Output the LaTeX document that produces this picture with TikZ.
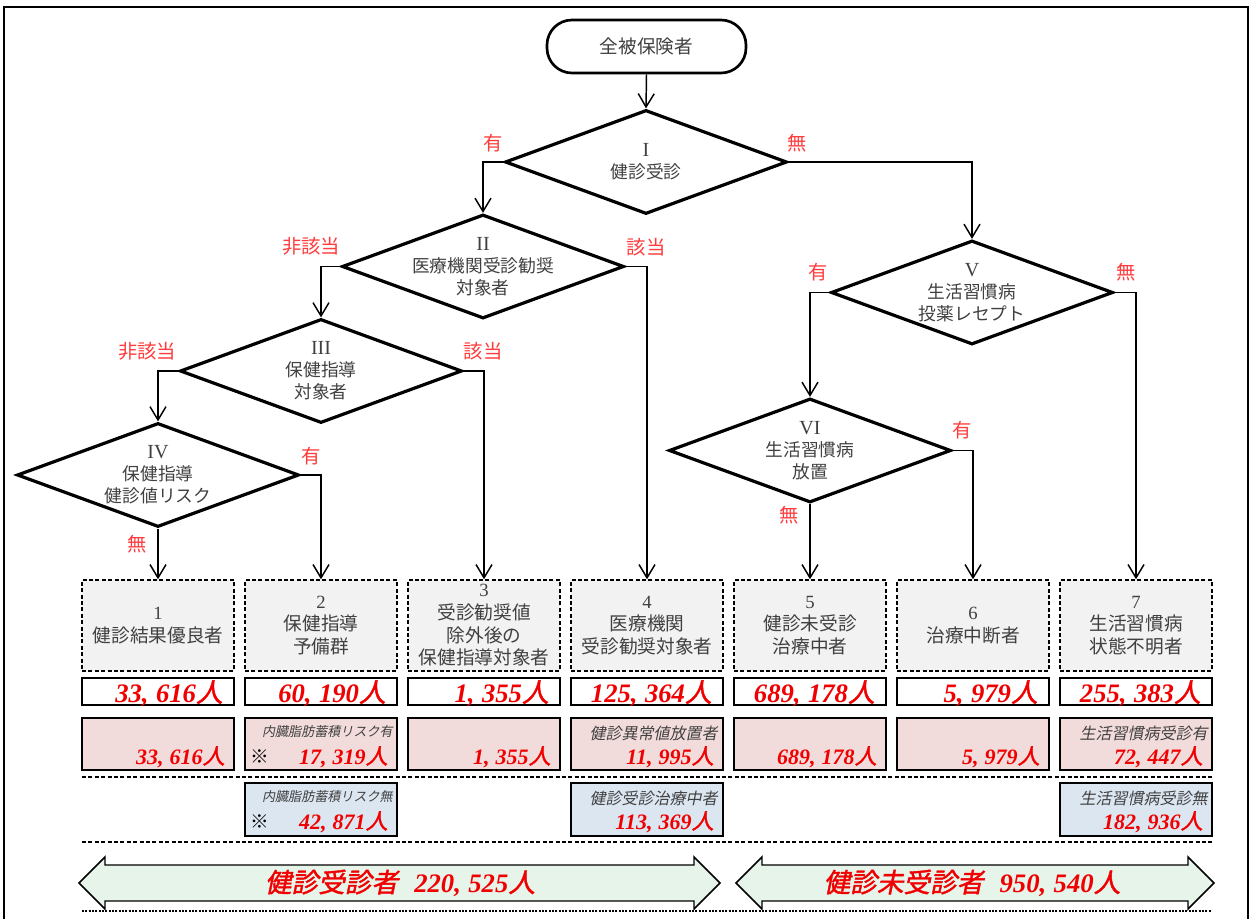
\documentclass[tikz,border=0pt]{standalone}
\usepackage{fontspec}
\setmainfont{Liberation Serif}
\newfontfamily\jp{Noto Sans CJK JP}
\newfontfamily\jpsl[FakeSlant=0.2]{Noto Sans CJK JP}
\newfontfamily\jpbi[FakeSlant=0.2,FakeBold=1.5]{Noto Sans CJK JP}
\newfontfamily\ser{Liberation Serif}
\usetikzlibrary{arrows.meta,shapes.geometric}
\definecolor{txtgray}{HTML}{404040}
\definecolor{lblred}{HTML}{FF3B3B}
\definecolor{numred}{HTML}{F00000}
\definecolor{boxgray}{HTML}{F2F2F2}
\definecolor{cpink}{HTML}{F2DCDB}
\definecolor{cblue}{HTML}{DCE6F1}
\definecolor{cgreen}{HTML}{E6F4EA}
\def\u{0.75pt}
\newcommand\cm{,\hspace{0.28em}}
\newcommand\pnum[1]{{\ser\bfseries\itshape #1}{\jpbi 人}}
\newcommand\rn[1]{{\ser\fontsize{15}{16.5}\selectfont #1}}
\tikzset{
  startn/.style={draw, line width=2pt, rounded corners=25*\u, minimum width=199*\u, minimum height=53*\u, font=\jp\fontsize{14}{17}\selectfont, text=txtgray},
  dia/.style={draw, diamond, line width=2.4pt, inner sep=0pt, minimum width=282*\u, minimum height=104*\u},
  dtext/.style={align=center, text=txtgray, font=\jp\fontsize{13.3}{16.5}\selectfont},
  conn/.style={line width=1.1pt},
  arr/.style={conn, -{Straight Barb[length=10pt,width=12pt,line width=1.1pt]}},
  lbl/.style={text=lblred, font=\jp\fontsize{14.5}{17}\selectfont, inner sep=0pt},
  catbox/.style={draw, dash pattern=on 3pt off 1.8pt, line width=1.1pt, fill=boxgray, minimum width=152*\u, minimum height=91*\u, inner sep=0pt, align=center, text=txtgray, font=\jp\fontsize{14}{17}\selectfont},
  totbox/.style={draw, line width=2pt, fill=white, minimum width=152*\u, minimum height=27*\u, inner sep=0pt},
  pinkbox/.style={draw, line width=2pt, fill=cpink, minimum width=152*\u, minimum height=52*\u, inner sep=0pt},
  bluebox/.style={draw, line width=2pt, fill=cblue, minimum width=152*\u, minimum height=53*\u, inner sep=0pt},
  bignum/.style={anchor=base east, inner sep=0pt, text=numred, font=\fontsize{20}{24}\selectfont},
  smallnum/.style={anchor=base east, inner sep=0pt, text=numred, font=\fontsize{16.5}{20}\selectfont},
  sublbl/.style={anchor=east, inner sep=0pt, text=txtgray, font=\jpsl\fontsize{12}{14}\selectfont},
  tinylbl/.style={anchor=east, inner sep=0pt, text=txtgray, font=\jpsl\fontsize{9.8}{12}\selectfont},
  kome/.style={inner sep=0pt, font=\jp\fontsize{14}{16}\selectfont},
  sep/.style={dash pattern=on 3pt off 1.8pt, line width=1.1pt},
  dotsep/.style={dash pattern=on 1.5pt off 1pt, line width=2pt},
  bigarrow/.style={draw, line width=1.1pt, fill=cgreen},
  arrtxt/.style={text=numred, font=\fontsize{20}{24}\selectfont, inner sep=0pt}
}
\begin{document}
\begin{tikzpicture}[x=0.75pt,y=-0.75pt]
\useasboundingbox (0,0) rectangle (1253,919);
% frame
\draw[line width=1.1pt] (4,925) -- (4,7) -- (1248,7) -- (1248,925);

% start
\node[startn] (s) at (646.5,46.5) {全被保険者};

% diamonds
\node[dia] (d1) at (646,162) {};
\node[dtext] (d1t) at (d1) {\rn{I}\\健診受診};
\node[dia] (d2) at (483,266.5) {};
\node[dtext] (d2t) at (d2) {\rn{II}\\医療機関受診勧奨\\対象者};
\node[dia] (d3) at (321,371) {};
\node[dtext] (d3t) at (d3) {\rn{III}\\保健指導\\対象者};
\node[dia] (d4) at (158,475) {};
\node[dtext] (d4t) at (d4) {\rn{IV}\\保健指導\\健診値リスク};
\node[dia] (d5) at (972,292.5) {};
\node[dtext] (d5t) at (d5) {\rn{V}\\生活習慣病\\投薬レセプト};
\node[dia] (d6) at (810,450.5) {};
\node[dtext] (d6t) at (d6) {\rn{VI}\\生活習慣病\\放置};

% category boxes
\node[catbox] (t1) at (158,625.5) {{\ser 1}\\健診結果優良者};
\node[catbox] (t2) at (321,625.5) {{\ser 2}\\保健指導\\予備群};
\node[catbox] (t3) at (484,625.5) {{\ser 3}\\受診勧奨値\\除外後の\\保健指導対象者};
\node[catbox] (t4) at (647,625.5) {{\ser 4}\\医療機関\\受診勧奨対象者};
\node[catbox] (t5) at (810,625.5) {{\ser 5}\\健診未受診\\治療中者};
\node[catbox] (t6) at (973,625.5) {{\ser 6}\\治療中断者};
\node[catbox] (t7) at (1136,625.5) {{\ser 7}\\生活習慣病\\状態不明者};

% connectors
\draw[arr] (s.south) -- (d1.north);
\draw[arr] (d1.west) -| (d2.north);
\draw[arr] (d1.east) -| (d5.north);
\draw[arr] (d2.west) -| (d3.north);
\draw[arr] (d2.east) -| (t4.north);
\draw[arr] (d3.west) -| (d4.north);
\draw[arr] (d3.east) -| (t3.north);
\draw[arr] (d4.east) -| (t2.north);
\draw[arr] (d4.south) -- (t1.north);
\draw[arr] (d5.west) -| (d6.north);
\draw[arr] (d5.east) -| (t7.north);
\draw[arr] (d6.east) -| (t6.north);
\draw[arr] (d6.south) -- (t5.north);

% branch labels
\node[lbl] (l1) at (493,143) {有};
\node[lbl] (l2) at (797,143) {無};
\node[lbl] (l3) at (311,246) {非該当};
\node[lbl] (l4) at (646,247) {該当};
\node[lbl] (l5) at (147,351) {非該当};
\node[lbl] (l6) at (483,351) {該当};
\node[lbl] (l7) at (311,456) {有};
\node[lbl] (l8) at (137,544) {無};
\node[lbl] (l9) at (818,272) {有};
\node[lbl] (l10) at (1126,272) {無};
\node[lbl] (l11) at (962,430) {有};
\node[lbl] (l12) at (789,515) {無};

% totals row
\node[totbox] (b1) at (158,691.5) {};
\node[totbox] (b2) at (321,691.5) {};
\node[totbox] (b3) at (484,691.5) {};
\node[totbox] (b4) at (647,691.5) {};
\node[totbox] (b5) at (810,691.5) {};
\node[totbox] (b6) at (973,691.5) {};
\node[totbox] (b7) at (1136,691.5) {};
\node[bignum] (v1) at (223,702) {\pnum{33\cm616}};
\node[bignum] (v2) at (386,702) {\pnum{60\cm190}};
\node[bignum] (v3) at (549,702) {\pnum{1\cm355}};
\node[bignum] (v4) at (712,702) {\pnum{125\cm364}};
\node[bignum] (v5) at (875,702) {\pnum{689\cm178}};
\node[bignum] (v6) at (1038,702) {\pnum{5\cm979}};
\node[bignum] (v7) at (1201,702) {\pnum{255\cm383}};

% pink row
\node[pinkbox] (p1) at (158,744) {};
\node[pinkbox] (p2) at (321,744) {};
\node[pinkbox] (p3) at (484,744) {};
\node[pinkbox] (p4) at (647,744) {};
\node[pinkbox] (p5) at (810,744) {};
\node[pinkbox] (p6) at (973,744) {};
\node[pinkbox] (p7) at (1136,744) {};
\node[tinylbl] (q2) at (393,732) {内臓脂肪蓄積リスク有};
\node[sublbl] (q4) at (718,733) {健診異常値放置者};
\node[sublbl] (q7) at (1208,733) {生活習慣病受診有};
\node[kome] (k2) at (260,757) {※};
\node[smallnum] (w1) at (225,764) {\pnum{33\cm616}};
\node[smallnum] (w2) at (388,764) {\pnum{17\cm319}};
\node[smallnum] (w3) at (551,764) {\pnum{1\cm355}};
\node[smallnum] (w4) at (714,764) {\pnum{11\cm995}};
\node[smallnum] (w5) at (877,764) {\pnum{689\cm178}};
\node[smallnum] (w6) at (1040,764) {\pnum{5\cm979}};
\node[smallnum] (w7) at (1203,764) {\pnum{72\cm447}};

\draw[sep] (82,777) -- (1212,777);

% blue row
\node[bluebox] (r2) at (321,809.5) {};
\node[bluebox] (r4) at (647,809.5) {};
\node[bluebox] (r7) at (1136,809.5) {};
\node[tinylbl] (y2) at (393,797) {内臓脂肪蓄積リスク無};
\node[sublbl] (y4) at (718,798) {健診受診治療中者};
\node[sublbl] (y7) at (1208,798) {生活習慣病受診無};
\node[kome] (k4) at (260,822) {※};
\node[smallnum] (z2) at (388,829) {\pnum{42\cm871}};
\node[smallnum] (z4) at (714,829) {\pnum{113\cm369}};
\node[smallnum] (z7) at (1203,829) {\pnum{182\cm936}};

\draw[sep] (82,842) -- (1212,842);

% big double arrows
\draw[bigarrow] (79,883) -- (105,857) -- (105,865) -- (694,865) -- (694,857) -- (720,883) -- (694,909) -- (694,901) -- (105,901) -- (105,909) -- cycle;
\node[arrtxt] (g1) at (400,883) {{\jpbi 健診受診者}\hspace{0.6em}\pnum{220\cm525}};
\draw[bigarrow] (736,883) -- (762,857) -- (762,865) -- (1188,865) -- (1188,857) -- (1214,883) -- (1188,909) -- (1188,901) -- (762,901) -- (762,909) -- cycle;
\node[arrtxt] (g2) at (972,883) {{\jpbi 健診未受診者}\hspace{0.6em}\pnum{950\cm540}};

\draw[dotsep] (82,911) -- (1212,911);
\end{tikzpicture}
\end{document}
